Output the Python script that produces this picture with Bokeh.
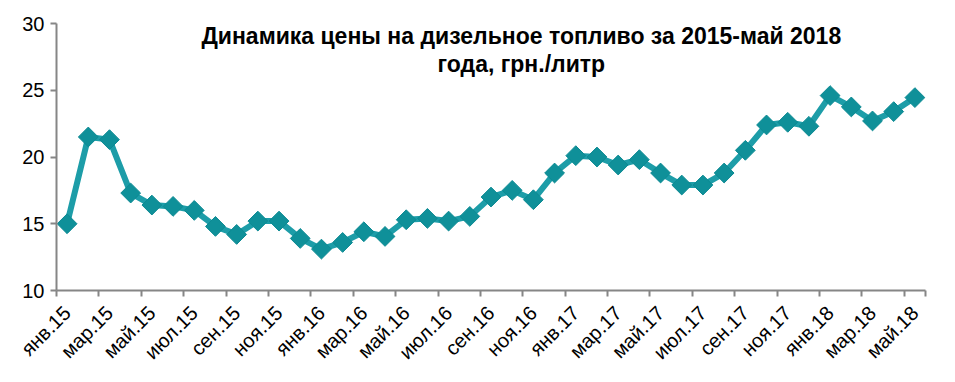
import numpy as np
from bokeh.plotting import figure
from bokeh.models import FixedTicker, Range1d, Label
from bokeh.embed import file_html
from bokeh.resources import INLINE

# --- data ---
tick_labels = ["янв.15", "мар.15", "май.15", "июл.15", "сен.15", "ноя.15",
               "янв.16", "мар.16", "май.16", "июл.16", "сен.16", "ноя.16",
               "янв.17", "мар.17", "май.17", "июл.17", "сен.17", "ноя.17",
               "янв.18", "мар.18", "май.18"]
prices = [15.0, 21.5, 21.3, 17.3, 16.4, 16.3, 16.0, 14.8, 14.2, 15.2,
          15.2, 13.9, 13.1, 13.6, 14.4, 14.05, 15.3, 15.4, 15.2, 15.55,
          17.0, 17.5, 16.8, 18.8, 20.1, 20.0, 19.4, 19.8, 18.8, 17.9,
          17.9, 18.8, 20.5, 22.4, 22.6, 22.3, 24.6, 23.75, 22.7, 23.4, 24.45]
title_lines = ["Динамика цены на дизельное топливо за 2015-май 2018", "года, грн./литр"]
y_ticks = [10, 15, 20, 25, 30]

n = len(prices)
x = list(range(n))
label_pos = list(range(0, n, 2))

p = figure(width=947, height=374, output_backend="svg", toolbar_location=None,
           x_range=Range1d(-0.5, n - 0.5), y_range=Range1d(10, 30),
           min_border_left=56, min_border_right=22, min_border_top=23,
           min_border_bottom=83)
p.outline_line_color = None
p.xgrid.visible = False
p.ygrid.visible = False
p.background_fill_color = "white"
p.border_fill_color = "white"

axis_col = "#868686"
# x axis
xa = p.xaxis[0]
xa.ticker = FixedTicker(ticks=label_pos, minor_ticks=[v - 0.5 for v in label_pos] + [n - 0.5])
xa.major_label_overrides = {pos: lab for pos, lab in zip(label_pos, tick_labels)}
xa.major_label_orientation = np.pi / 4
xa.major_tick_line_color = None
xa.minor_tick_line_color = axis_col
xa.minor_tick_line_width = 2
xa.minor_tick_out = 6
xa.minor_tick_in = 0
xa.axis_line_color = axis_col
xa.axis_line_width = 2
xa.major_label_text_font = "Liberation Sans"
xa.major_label_text_font_size = "20px"
xa.major_label_text_color = "#000000"
xa.major_label_standoff = 13

# y axis
ya = p.yaxis[0]
ya.ticker = FixedTicker(ticks=y_ticks)
ya.axis_line_color = axis_col
ya.axis_line_width = 2
ya.major_tick_line_color = axis_col
ya.major_tick_line_width = 2
ya.major_tick_out = 6
ya.major_tick_in = 0
ya.minor_tick_line_color = None
ya.major_label_text_font = "Liberation Sans"
ya.major_label_text_font_size = "20px"
ya.major_label_text_color = "#000000"
ya.major_label_standoff = 6

p.line(x, prices, line_color="#1d9da8", line_width=6, line_join="round")
p.scatter(x, prices, marker="square", size=14, angle=np.pi / 4,
          fill_color="#0f9099", line_color="#0c8a93", line_width=1)

for txt, ty in zip(title_lines, [29.05, 26.97]):
    p.add_layout(Label(x=21.43, y=ty, text=txt, text_align="center",
                       text_baseline="middle", text_font="Liberation Sans",
                       text_font_style="bold", text_font_size="23px",
                       text_color="#000000"))

open("out.html", "w").write(file_html(p, INLINE))
